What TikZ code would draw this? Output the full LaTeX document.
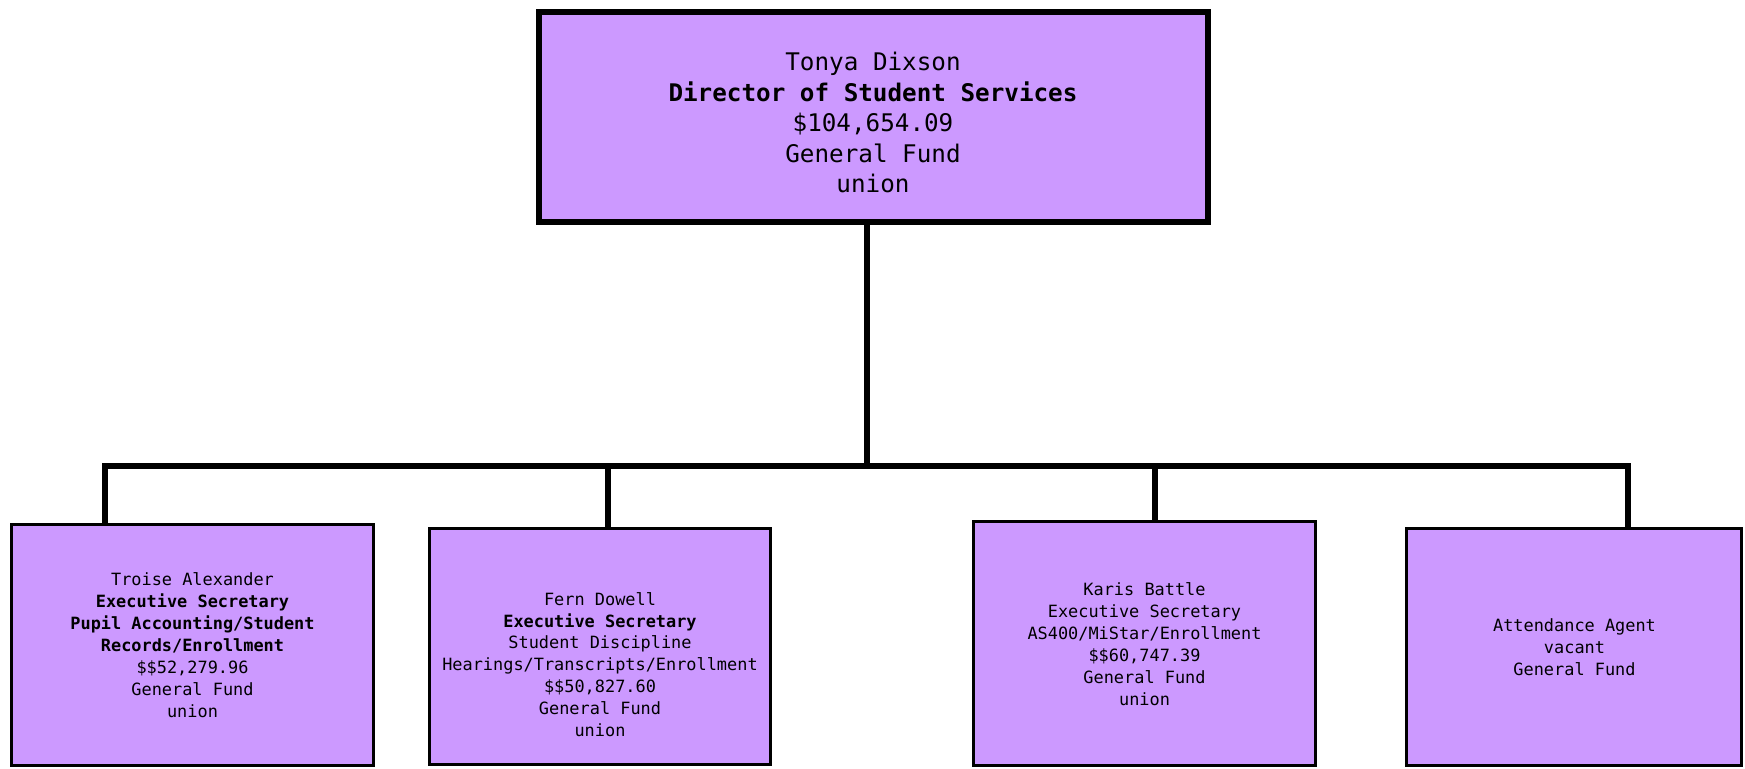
\documentclass[tikz,border=0pt]{standalone}
\usepackage{fontspec}
\setmonofont{DejaVu Sans Mono}
\definecolor{boxfill}{HTML}{CC99FF}
\begin{document}
\begin{tikzpicture}[x=0.5pt,y=-0.5pt,
  box/.style={draw=black, fill=boxfill, line width=1.3pt, inner sep=0pt},
  topbox/.style={draw=black, fill=boxfill, line width=3pt, inner sep=0pt},
  conn/.style={line width=3pt, draw=black},
  bigtxt/.style={font=\ttfamily\fontsize{12.13pt}{15.25pt}\selectfont, align=center, inner sep=0pt},
  smalltxt/.style={font=\ttfamily\fontsize{8.45pt}{10.95pt}\selectfont, align=center, inner sep=0pt}]
\useasboundingbox (0,0) rectangle (1745,768);
% boxes
\node[topbox, minimum width=334.5pt, minimum height=105pt] (top) at (873.5,117) {};
\node[box, minimum width=181.2pt, minimum height=120.7pt] (b1) at (192.5,645) {};
\node[box, minimum width=170.7pt, minimum height=118.2pt] (b2) at (600,646.5) {};
\node[box, minimum width=171.2pt, minimum height=122.2pt] (b3) at (1144.5,643.5) {};
\node[box, minimum width=167.7pt, minimum height=118.7pt] (b4) at (1574,647) {};
% texts
\node[bigtxt] (t0) at (873,122.5) {Tonya Dixson\\\textbf{Director of Student Services}\\\$104,654.09\\General Fund\\union};
\node[smalltxt] (t1) at (192.5,645) {Troise Alexander\\\textbf{Executive Secretary}\\\textbf{Pupil Accounting/Student}\\\textbf{Records/Enrollment}\\\$\$52,279.96\\General Fund\\union};
\node[smalltxt] (t2) at (600,664.5) {Fern Dowell\\\textbf{Executive Secretary}\\Student Discipline\\Hearings/Transcripts/Enrollment\\\$\$50,827.60\\General Fund\\union};
\node[smalltxt] (t3) at (1144.5,644) {Karis Battle\\Executive Secretary\\AS400/MiStar/Enrollment\\\$\$60,747.39\\General Fund\\union};
\node[smalltxt] (t4) at (1574.5,647) {Attendance Agent\\vacant\\General Fund};
% connectors
\coordinate (j) at (867,466);
\coordinate (d1) at (105,466);
\coordinate (d2) at (608,466);
\coordinate (d3) at (1155,466);
\coordinate (d4) at (1628,466);
\draw[conn] (top.south -| j) -- (j);
\draw[conn] (b1.north -| d1) -- (d1) -- (d4) -- (b4.north -| d4);
\draw[conn] (d2) -- (d2 |- b2.north);
\draw[conn] (d3) -- (d3 |- b3.north);
\end{tikzpicture}
\end{document}
